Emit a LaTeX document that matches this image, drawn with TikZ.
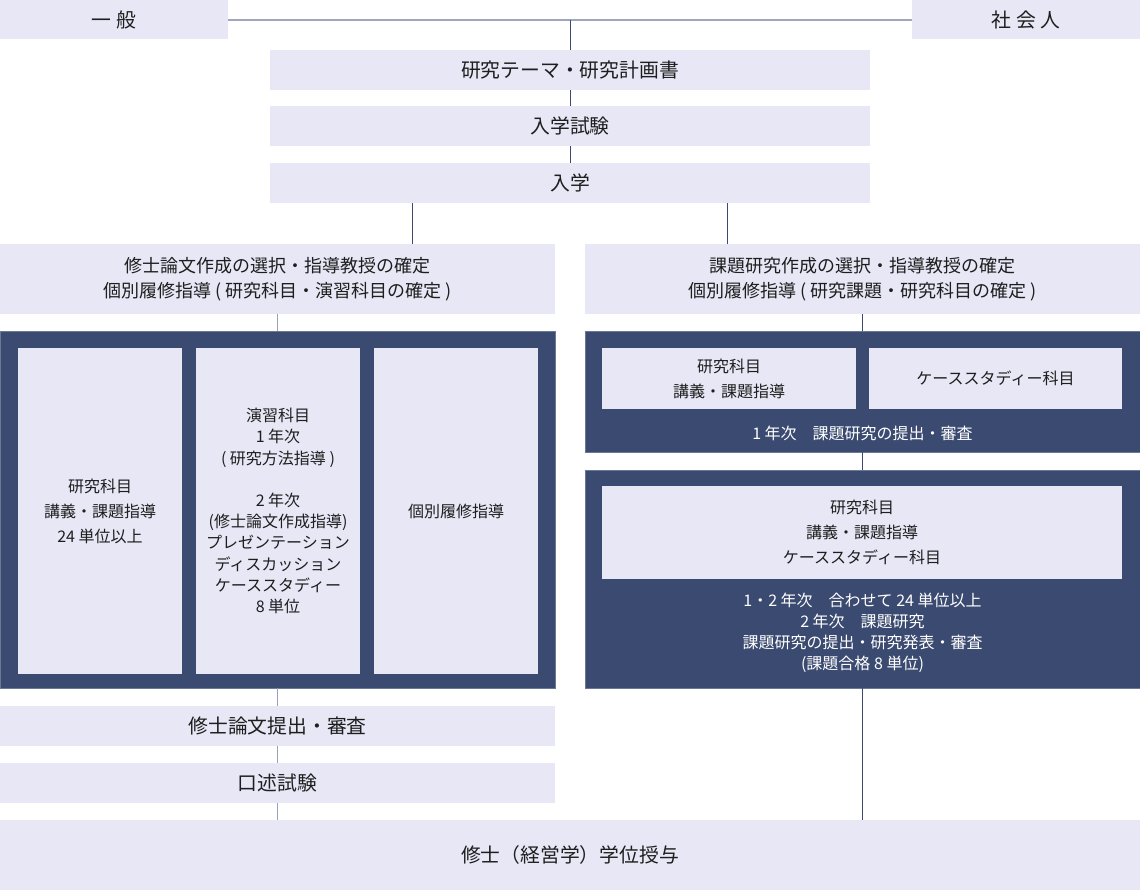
\documentclass[tikz,border=0pt]{standalone}
\usepackage{fontspec}
\setmainfont{Noto Sans CJK JP}
\usetikzlibrary{calc}
\definecolor{boxfill}{HTML}{E7E7F6}
\definecolor{panelc}{HTML}{3B4A70}
\definecolor{topline}{HTML}{A0A6BC}
\definecolor{leftline}{HTML}{9AA0B8}
\definecolor{txt}{HTML}{1E1E1E}
\tikzset{
  lbox/.style={fill=boxfill, draw=none, inner sep=0pt, text=txt, align=center},
  big/.style={font=\fontsize{19.8}{25}\selectfont},
  mid/.style={font=\fontsize{18}{25}\selectfont},
  small/.style={font=\fontsize{16}{25}\selectfont},
  smalltight/.style={font=\fontsize{16}{21.2}\selectfont},
  panel/.style={fill=panelc, draw=panelc!75!white, line width=0.6pt, inner sep=0pt},
  ptext/.style={text=white, align=center, inner sep=0pt},
  conn/.style={draw=panelc, line width=1pt},
  lconn/.style={draw=leftline, line width=1pt},
}
\begin{document}
\begin{tikzpicture}[x=1pt,y=-1pt]
\useasboundingbox (0,0) rectangle (1140,890);
% top row
\node[lbox, big, minimum width=228pt, minimum height=39pt] (ippan) at (114,20) {一 般};
\node[lbox, big, minimum width=228pt, minimum height=39pt] (shakai) at (1026,20) {社 会 人};
\node[lbox, big, minimum width=600pt, minimum height=40pt] (theme) at (570,70) {研究テーマ・研究計画書};
\node[lbox, big, minimum width=600pt, minimum height=40pt] (exam) at (570,126) {入学試験};
\node[lbox, big, minimum width=600pt, minimum height=40pt] (nyu) at (570,183) {入学};
\coordinate (topc) at (570,20);
\coordinate (xl) at (412,0);
\coordinate (xr) at (727,0);
\draw[draw=topline, line width=2pt] (ippan.east) -- (shakai.west);
\draw[conn] (topc) -- (theme.north);
\draw[conn] (theme.south) -- (exam.north);
\draw[conn] (exam.south) -- (nyu.north);
% selection boxes
\node[lbox, mid, minimum width=555pt, minimum height=70pt] (lsel) at (277.5,279) {修士論文作成の選択・指導教授の確定\\個別履修指導 ( 研究科目・演習科目の確定 )};
\node[lbox, mid, minimum width=555pt, minimum height=70pt] (rsel) at (862.5,279) {課題研究作成の選択・指導教授の確定\\個別履修指導 ( 研究課題・研究科目の確定 )};
\draw[conn] (nyu.south -| xl) -- (lsel.north -| xl);
\draw[conn] (nyu.south -| xr) -- (rsel.north -| xr);
% left panel
\node[panel, minimum width=555pt, minimum height=357pt] (lpanel) at (277.5,509.5) {};
\node[lbox, small, minimum width=164pt, minimum height=326pt] (lc1) at (100,511) {研究科目\\講義・課題指導\\24 単位以上};
\node[lbox, smalltight, minimum width=164pt, minimum height=326pt] (lc2) at (278,511) {演習科目\\1 年次\\( 研究方法指導 )\\[21.2pt]2 年次\\(修士論文作成指導)\\プレゼンテーション\\ディスカッション\\ケーススタディー\\8 単位};
\node[lbox, small, minimum width=164pt, minimum height=326pt] (lc3) at (456,511) {個別履修指導};
\draw[lconn] (lsel.south) -- (lpanel.north);
% left lower boxes
\node[lbox, big, minimum width=555pt, minimum height=40pt] (thesis) at (277.5,726) {修士論文提出・審査};
\node[lbox, big, minimum width=555pt, minimum height=40pt] (oral) at (277.5,783) {口述試験};
\node[lbox, big, minimum width=1140pt, minimum height=70pt] (degree) at (570,855) {修士（経営学）学位授与};
\draw[lconn] (lpanel.south) -- (thesis.north);
\draw[lconn] (thesis.south) -- (oral.north);
\draw[lconn] (oral.south) -- (degree.north -| oral.south);
% right panel 1
\node[panel, minimum width=555pt, minimum height=121pt] (rp1) at (862.5,391.5) {};
\node[lbox, small, minimum width=254pt, minimum height=61pt] (rp1a) at (729,378.5) {研究科目\\講義・課題指導};
\node[lbox, small, minimum width=253pt, minimum height=61pt] (rp1b) at (995.5,378.5) {ケーススタディー科目};
\node[ptext, small] (rp1t) at (862.5,433) {1 年次　課題研究の提出・審査};
\draw[conn] (rsel.south) -- (rp1.north);
% right panel 2
\node[panel, minimum width=555pt, minimum height=218pt] (rp2) at (862.5,579) {};
\node[lbox, small, minimum width=520pt, minimum height=93pt] (rp2a) at (862,532.5) {研究科目\\講義・課題指導\\ケーススタディー科目};
\node[ptext, smalltight] (rp2t) at (862.5,633) {1・2 年次　合わせて 24 単位以上\\2 年次　課題研究\\課題研究の提出・研究発表・審査\\(課題合格 8 単位)};
\draw[conn] (rp1.south) -- (rp2.north);
\draw[conn] (rp2.south) -- (degree.north -| rp2.south);
\end{tikzpicture}
\end{document}
